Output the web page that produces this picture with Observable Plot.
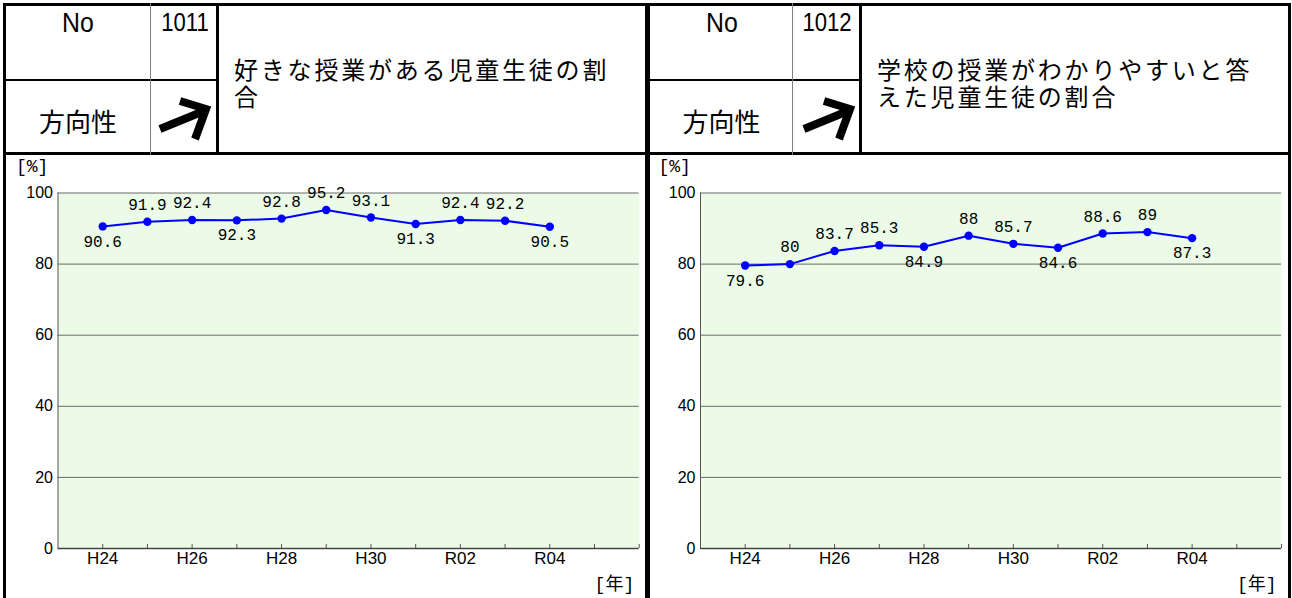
<!DOCTYPE html>
<html>
<head>
<meta charset="utf-8">
<script src="https://cdn.jsdelivr.net/npm/d3@7"></script>
<script src="https://cdn.jsdelivr.net/npm/@observablehq/plot@0.6"></script>
<style>
  html, body { margin: 0; padding: 0; background: #fff; }
  #root { position: relative; width: 1292px; height: 598px; overflow: hidden; background: #fff; }
  .ln { position: absolute; background: #000; }
  .gr { position: absolute; background: #808080; }
  .tx { position: absolute; white-space: nowrap; color: #000; line-height: 1; }
  .lat { font-family: "Liberation Sans", Arial, sans-serif; }
  .cjk { font-family: "Noto Sans CJK JP", sans-serif; }
  .chart { position: absolute; }
</style>
</head>
<body>
<div id="root"></div>
<script>
// ---- data ----
const years = [2012, 2013, 2014, 2015, 2016, 2017, 2018, 2019, 2020, 2021, 2022];
const yearNames = ["H24", "H25", "H26", "H27", "H28", "H29", "H30", "R01", "R02", "R03", "R04"];
const labeledYears = [2012, 2014, 2016, 2018, 2020, 2022];
const xTickLabels = ["H24", "H26", "H28", "H30", "R02", "R04"];
const tickYears = [2012, 2013, 2014, 2015, 2016, 2017, 2018, 2019, 2020, 2021, 2022, 2023, 2024];
const yTicks = [0, 20, 40, 60, 80, 100];
const gridValues = [20, 40, 60, 80, 100];
const valuesA = [90.6, 91.9, 92.4, 92.3, 92.8, 95.2, 93.1, 91.3, 92.4, 92.2, 90.5];
const valuesB = [79.6, 80, 83.7, 85.3, 84.9, 88, 85.7, 84.6, 88.6, 89, 87.3];
const panels = [
  {no: "1011", title1: "好きな授業がある児童生徒の割", title2: "合", values: valuesA},
  {no: "1012", title1: "学校の授業がわかりやすいと答", title2: "えた児童生徒の割合", values: valuesB}
];

const root = document.getElementById("root");
function box(cls, x, y, w, h) {
  const d = document.createElement("div");
  d.className = cls;
  d.style.left = x + "px"; d.style.top = y + "px";
  d.style.width = w + "px"; d.style.height = h + "px";
  root.appendChild(d);
  return d;
}
function text(cls, str, cx, cy, size, anchor, extra, sx) {
  const d = document.createElement("div");
  d.className = "tx " + cls;
  d.textContent = str;
  d.style.fontSize = size + "px";
  d.style.left = cx + "px"; d.style.top = cy + "px";
  const sc = sx ? " scaleX(" + sx + ")" : "";
  d.style.transform = (anchor === "center" ? "translate(-50%,-50%)" : "translate(0,-50%)") + sc;
  if (extra) Object.assign(d.style, extra);
  root.appendChild(d);
  return d;
}

function chart(values, opts) {
  const data = values.map((v, i) => ({
    year: years[i], name: yearNames[i], v,
    below: (i === 0 || v < values[i - 1]) && (i === values.length - 1 || v < values[i + 1])
  }));
  return Plot.plot({
    width: opts.width, height: 441,
    marginLeft: opts.marginLeft, marginRight: opts.marginRight, marginTop: 35.5, marginBottom: 50,
    x: {type: "linear", domain: [2011, 2024]},
    y: {domain: [0, 100]},
    style: {fontFamily: "Liberation Sans, Arial, sans-serif", fontSize: "16px", color: "#000", background: "#fff"},
    marks: [
      Plot.frame({fill: "#ebfbe7", stroke: null}),
      Plot.ruleY(gridValues, {stroke: "#6a6a6a", strokeWidth: 1}),
      Plot.ruleX(tickYears, {y1: 0, y2: 0, insetTop: -4, stroke: "#555", strokeWidth: 1}),
      Plot.ruleY([0], {stroke: "#444", strokeWidth: 1.5}),
      Plot.ruleX([2011], {stroke: "#555", strokeWidth: 1}),
      Plot.axisY({ticks: yTicks, tickSize: 0, tickPadding: 5, label: null, fontSize: 16}),
      Plot.axisX({ticks: labeledYears, tickSize: 0, tickPadding: 3, label: null, fontSize: 17,
        tickFormat: d => xTickLabels[labeledYears.indexOf(d)]}),
      Plot.line(data, {x: "year", y: "v", stroke: "#0000ff", strokeWidth: 2}),
      Plot.dot(data, {x: "year", y: "v", fill: "#0000ff", r: 4.2}),
      Plot.text(data.filter(d => !d.below), {x: "year", y: "v", text: d => String(d.v), dy: -17,
        fontFamily: "Liberation Mono, monospace", fontSize: 16, fill: "#000"}),
      Plot.text(data.filter(d => d.below), {x: "year", y: "v", text: d => String(d.v), dy: 15,
        fontFamily: "Liberation Mono, monospace", fontSize: 16, fill: "#000"}),
      Plot.text(["[%]"], {text: d => d, frameAnchor: "top-left", lineAnchor: "middle", textAnchor: "start",
        dx: -42, dy: -26.5, fontFamily: "Liberation Mono, monospace", fontSize: 18}),
      Plot.text(["[年]"], {text: d => d, frameAnchor: "bottom-right", lineAnchor: "middle", textAnchor: "end",
        dx: -5, dy: 36, fontFamily: "Liberation Mono, Noto Sans CJK JP, monospace", fontSize: 18})
    ]
  });
}

const layouts = [
  {L: 3, R: 648, bw: 3, c1: 150, c2: 217, svgLeft: 6, svgWidth: 639, mL: 51.5, mR: 6.3},
  {L: 648, R: 1291, bw: 2, c1: 792, c2: 860, svgLeft: 650, svgWidth: 638, mL: 50, mR: 7}
];

panels.forEach((p, k) => {
  const g = layouts[k];
  const holder = document.createElement("div");
  holder.className = "chart";
  holder.style.left = g.svgLeft + "px";
  holder.style.top = "157px";
  holder.appendChild(chart(p.values, {width: g.svgWidth, marginLeft: g.mL, marginRight: g.mR}));
  root.appendChild(holder);

  // borders
  box("ln", g.L, 3, g.R - g.L, 3);              // top
  box("ln", g.L, 3, g.bw, 598);                  // left
  box("ln", g.R - 3, 3, 3, 598);                 // right
  box("ln", g.L, 152, g.R - g.L, 3);             // header bottom
  box("ln", g.L, 79, g.c2 - g.L, 2);             // middle line
  box("gr", g.c1, 3, 1, 152);                    // thin divider
  box("ln", g.c2 - 1, 3, 3, 152);                // thick divider

  // header texts
  const cNo = (g.L + 3 + g.c1) / 2;
  text("lat", "No", cNo, 23, 27, "center", null, 0.92);
  text("lat", p.no, (g.c1 + g.c2) / 2 + 1, 22, 26, "center", null, 0.85);
  text("cjk", "方向性", cNo, 121, 26, "center");
  text("cjk", p.title1, g.c2 + 17, 69, 24, "left", {letterSpacing: "2.8px"});
  text("cjk", p.title2, g.c2 + 17, 96, 24, "left", {letterSpacing: "2.8px"});

  // arrow
  const ns = "http://www.w3.org/2000/svg";
  const s = document.createElementNS(ns, "svg");
  s.setAttribute("width", 66); s.setAttribute("height", 71);
  s.style.position = "absolute";
  s.style.left = (g.c1 + 1) + "px"; s.style.top = "81px";
  const d0 = k === 0 ? 0 : 644;
  const ox = g.c1 + 1, oy = 81;
  const q = (x, y) => (x + d0 - ox) + "," + (y - oy);
  const stem = document.createElementNS(ns, "path");
  stem.setAttribute("d", "M" + q(160, 129) + " L" + q(204, 111));
  stem.setAttribute("stroke", "#000"); stem.setAttribute("stroke-width", 8); stem.setAttribute("fill", "none");
  s.appendChild(stem);
  const head = document.createElementNS(ns, "path");
  head.setAttribute("d", "M" + q(180, 101) + " L" + q(206, 109) + " L" + q(195, 139));
  head.setAttribute("stroke", "#000"); head.setAttribute("stroke-width", 8); head.setAttribute("fill", "none");
  head.setAttribute("stroke-linejoin", "miter");
  s.appendChild(head);
  root.appendChild(s);
});
</script>
</body>
</html>
